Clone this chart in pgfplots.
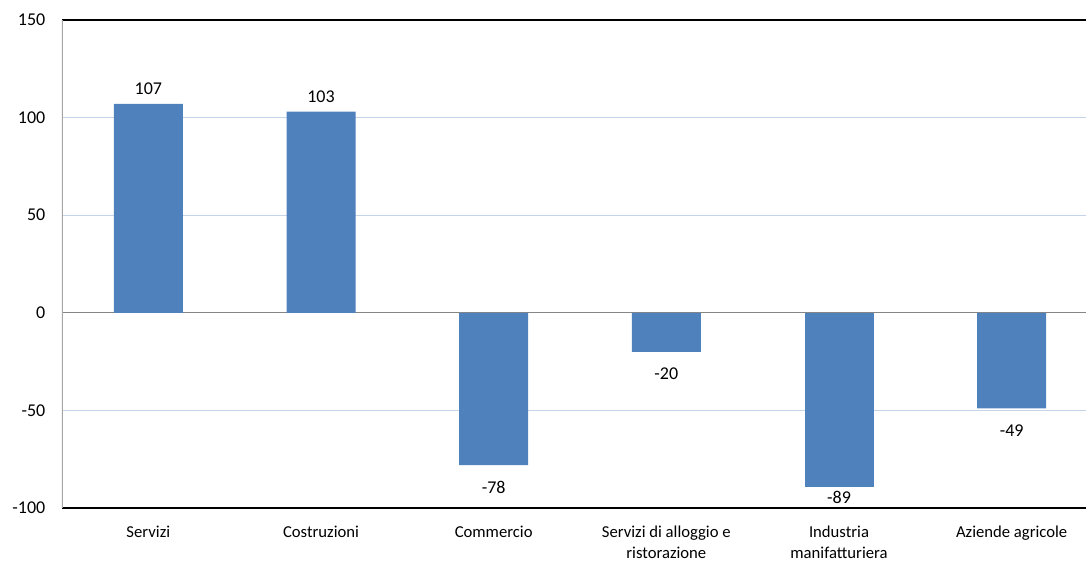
\documentclass[border=0pt]{standalone}
\usepackage{pgfplots}
\pgfplotsset{compat=1.18}
\usepackage{fontspec}
\setmainfont{Carlito}
\definecolor{barblue}{HTML}{4F81BD}
\definecolor{gridblue}{HTML}{C6D4E9}
\definecolor{zerogray}{HTML}{868686}
\definecolor{leftgray}{HTML}{A6A6A6}
\begin{document}
\begin{tikzpicture}
\useasboundingbox (0,0) rectangle (814.5pt,420.75pt);
\begin{axis}[
    at={(46.5pt,39.75pt)}, anchor=south west,
    scale only axis, width=777pt, height=366pt,
    ymin=-100, ymax=150,
    ytick={-100,-50,0,50,100,150},
    xmin=-0.5, xmax=5.5,
    xtick={0,1,2,3,4,5},
    xticklabels={Servizi, Costruzioni, Commercio,
        {Servizi di alloggio e\\ristorazione},
        {Industria\\manifatturiera}, Aziende agricole},
    xticklabel style={align=center, font=\fontsize{12.5}{15.5}\selectfont, yshift=-10pt},
    yticklabel style={font=\fontsize{13.5}{16}\selectfont, xshift=-9pt},
    /pgf/number format/assume math mode=true,
    major tick length=0pt,
    axis line style={draw=none},
    ymajorgrids=true,
    grid style={gridblue, line width=0.75pt},
    extra y ticks={0},
    extra y tick labels={},
    extra y tick style={grid style={zerogray, line width=0.75pt}},
    ybar, bar width=51.75pt, bar shift=0pt,
    nodes near coords,
    every node near coord/.append style={font=\fontsize{13.5}{16}\selectfont, black},
]
% positive values
\addplot[fill=barblue, draw=none,
    every node near coord/.append style={inner sep=7pt}]
    coordinates {(0,107) (1,103)};
% negative values
\addplot[fill=barblue, draw=none,
    every node near coord/.append style={inner sep=12pt}]
    coordinates {(2,-78) (3,-20) (5,-49)};
% label kept inside the plot area
\addplot[fill=barblue, draw=none,
    every node near coord/.append style={inner sep=3.5pt}]
    coordinates {(4,-89)};
\draw[black, line width=1pt] (rel axis cs:0,1) -- (rel axis cs:1,1);
\draw[black, line width=1pt] (rel axis cs:0,0) -- (rel axis cs:1,0);
\draw[leftgray, line width=0.9pt] (rel axis cs:0,0) -- (rel axis cs:0,1);
\end{axis}
\end{tikzpicture}
\end{document}
